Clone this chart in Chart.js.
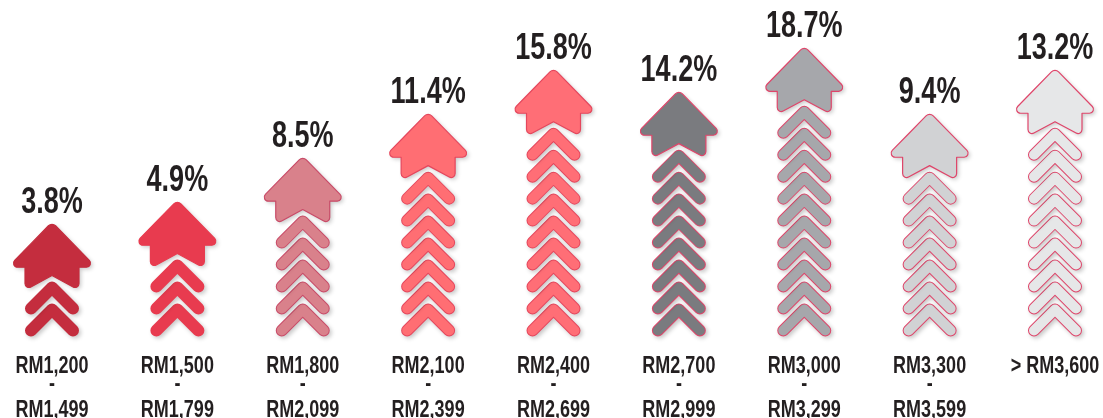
<!DOCTYPE html>
<html>
<head>
<meta charset="utf-8">
<script src="https://cdn.jsdelivr.net/npm/chart.js@4"></script>
<style>
  html, body { margin: 0; padding: 0; background: #fff; }
</style>
</head>
<body>
<canvas id="chart" width="1103" height="418"></canvas>
<script>
const RANGES = [
  ["RM1,200", "-", "RM1,499"],
  ["RM1,500", "-", "RM1,799"],
  ["RM1,800", "-", "RM2,099"],
  ["RM2,100", "-", "RM2,399"],
  ["RM2,400", "-", "RM2,699"],
  ["RM2,700", "-", "RM2,999"],
  ["RM3,000", "-", "RM3,299"],
  ["RM3,300", "-", "RM3,599"],
  ["> RM3,600"]
];
const PERCENT = [3.8, 4.9, 8.5, 11.4, 15.8, 14.2, 18.7, 9.4, 13.2];
// number of chevrons under each arrow head, counted off the picture
const CHEVRONS = [2, 3, 5, 7, 9, 8, 10, 7, 9];
const FILLS = ["#c42d3e", "#e83b4f", "#d9818b", "#ff6e73", "#ff6e76", "#7a7b7f", "#a6a7ab", "#d1d2d4", "#e6e7e8"];
const OUTLINES = ["#c42d3e", "#e83b4f", "#c94b68", "#e5475d", "#e5475d", "#df456a", "#df456a", "#df456a", "#df456a"];

const TEXT = "#231f20";
const FONT = "'Liberation Sans', Arial, sans-serif";

function roundedPoly(ctx, pts) {
  // pts: [x, y, radius]
  const n = pts.length;
  ctx.beginPath();
  const last = pts[n - 1], first = pts[0];
  ctx.moveTo((last[0] + first[0]) / 2, (last[1] + first[1]) / 2);
  for (let i = 0; i < n; i++) {
    const p = pts[i], q = pts[(i + 1) % n];
    if (p[2] > 0) ctx.arcTo(p[0], p[1], q[0], q[1], p[2]);
    else ctx.lineTo(p[0], p[1]);
  }
  ctx.closePath();
}

function setShadow(ctx, on) {
  ctx.shadowColor = on ? "rgba(0,0,0,0.22)" : "rgba(0,0,0,0)";
  ctx.shadowBlur = on ? 4 : 0;
  ctx.shadowOffsetX = on ? 2 : 0;
  ctx.shadowOffsetY = on ? 2 : 0;
}

// condensed text: the original face is much narrower than anything installed
function narrowText(ctx, str, x, y, size, sx) {
  ctx.save();
  ctx.font = "bold " + size + "px " + FONT;
  ctx.textAlign = "center";
  ctx.textBaseline = "alphabetic";
  ctx.fillStyle = TEXT;
  ctx.translate(x, y);
  ctx.scale(sx, 1);
  ctx.fillText(str, 0, 0);
  ctx.restore();
}

const arrowPlugin = {
  id: "arrows",
  afterDatasetsDraw(chart) {
    const ctx = chart.ctx;
    const y = chart.scales.y;
    const x = chart.scales.x;
    const meta = chart.getDatasetMeta(0);
    const base = y.getPixelForValue(0);
    const half = 21, sw = 10;

    meta.data.forEach((bar, i) => {
      const cx = bar.x;
      const n = CHEVRONS[i];
      ctx.save();
      ctx.lineCap = "round";
      ctx.lineJoin = "round";

      // chevrons, bottom first
      let topPeak = 0;
      for (let k = 0; k < n; k++) {
        const py = y.getPixelForValue(k + 1) - 3.5;
        topPeak = py;
        ctx.beginPath();
        ctx.moveTo(cx - half, py + half);
        ctx.lineTo(cx, py);
        ctx.lineTo(cx + half, py + half);
        setShadow(ctx, true);
        ctx.strokeStyle = OUTLINES[i];
        ctx.lineWidth = sw + 2;
        ctx.stroke();
        setShadow(ctx, false);
        ctx.strokeStyle = FILLS[i];
        ctx.lineWidth = sw;
        ctx.stroke();
      }

      // head + stem
      const stemBot = topPeak + 2.6;
      const notch = topPeak - 12;
      const stemTop = stemBot - 23;
      const tip = stemTop - 45;
      roundedPoly(ctx, [
        [cx, tip, 5],
        [cx + 44, stemTop, 4],
        [cx + 27, stemTop, 0],
        [cx + 27, stemBot, 4],
        [cx, notch, 0],
        [cx - 27, stemBot, 4],
        [cx - 27, stemTop, 0],
        [cx - 44, stemTop, 4]
      ]);
      setShadow(ctx, true);
      ctx.fillStyle = FILLS[i];
      ctx.fill();
      setShadow(ctx, false);
      ctx.strokeStyle = OUTLINES[i];
      ctx.lineWidth = 1.2;
      ctx.stroke();
      ctx.restore();

      // percentage above the head
      narrowText(ctx, PERCENT[i].toFixed(1) + "%", cx, tip - 9, 37, 0.73);

      // category label under the axis
      const tx = x.getPixelForTick(i);
      const lines = chart.data.labels[i];
      lines.forEach((ln, j) => {
        const ly = base + 38 + j * 22 - (ln === "-" ? 4 : 0);
        narrowText(ctx, ln, tx, ly, 24, 0.75);
      });
    });
  }
};

new Chart(document.getElementById("chart"), {
  type: "bar",
  data: {
    labels: RANGES,
    datasets: [{
      data: CHEVRONS,
      backgroundColor: "rgba(0,0,0,0)",
      borderWidth: 0
    }]
  },
  options: {
    responsive: false,
    animation: false,
    layout: { padding: { left: 52, right: 48, top: 0, bottom: 83 } },
    scales: {
      x: {
        offset: false,
        grid: { display: false, drawTicks: false },
        border: { display: false },
        ticks: { display: false }
      },
      y: { display: false, min: 0, max: 15.24 }
    },
    plugins: {
      legend: { display: false },
      tooltip: { enabled: false }
    }
  },
  plugins: [arrowPlugin]
});
</script>
</body>
</html>
